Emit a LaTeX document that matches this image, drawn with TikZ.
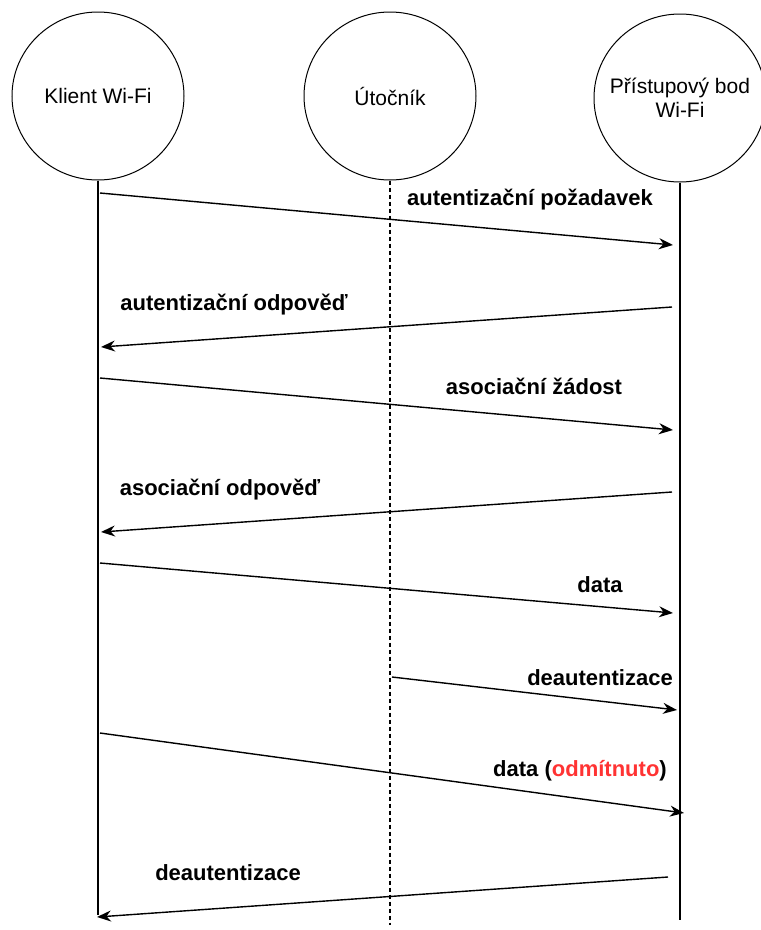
\documentclass[tikz,border=0pt]{standalone}
\usepackage{fontspec}
\setmainfont{Liberation Sans}
\usetikzlibrary{shapes.geometric, arrows.meta}
\usetikzlibrary{positioning}
\definecolor{odmitnuto}{RGB}{255,51,51}
\tikzstyle{party} = [ellipse, minimum width=172pt, minimum height=168pt, inner xsep=-16pt, draw=black, line width=1pt, align=center, font=\fontsize{21}{24}\selectfont]
\tikzstyle{lifeline} = [line width=1.2pt]
\tikzstyle{msg} = [line width=1.4pt, -{Stealth[length=14pt,width=11pt]}]
\tikzstyle{lbl} = [inner sep=0pt, font=\fontsize{22}{26}\selectfont\bfseries]

\begin{document}
\begin{tikzpicture}[x=1pt, y=-1pt]
        \useasboundingbox (0,0) rectangle (761,930);
        %participants
        \node (klient) [party] at (98,96) {Klient Wi-Fi};
        \node (utocnik) [party, right of=klient, node distance=292pt] {Útočník};
        \node (ap) [party, right of=utocnik, node distance=290pt, yshift=-2pt] {Přístupový bod\\Wi-Fi};
        %lifeline ends
        \coordinate (klientEnd) at (98,915);
        \coordinate (utocnikEnd) at (390,925);
        \coordinate (apEnd) at (680,920);
        \draw [lifeline] (klient) -- (klientEnd);
        \draw [lifeline, dashed, dash pattern=on 4pt off 3pt] (utocnik) -- (utocnikEnd);
        \draw [lifeline] (ap) -- (apEnd);
        %message end points
        \coordinate (k1) at (100,193);  \coordinate (a1) at (673,245);
        \coordinate (a2) at (672,307);  \coordinate (k2) at (101,347);
        \coordinate (k3) at (100,378);  \coordinate (a3) at (673,430);
        \coordinate (a4) at (672,492);  \coordinate (k4) at (101,532);
        \coordinate (k5) at (100,563);  \coordinate (a5) at (673,613);
        \coordinate (u6) at (392,677);  \coordinate (a6) at (677,710);
        \coordinate (k7) at (100,733);  \coordinate (a7) at (684,813);
        \coordinate (a8) at (668,877);  \coordinate (k8) at (97,917);
        %messages
        \draw [msg] (k1) -- (a1);
        \draw [msg] (a2) -- (k2);
        \draw [msg] (k3) -- (a3);
        \draw [msg] (a4) -- (k4);
        \draw [msg] (k5) -- (a5);
        \draw [msg] (u6) -- (a6);
        \draw [msg] (k7) -- (a7);
        \draw [msg] (a8) -- (k8);
        %labels
        \node (authReq) [lbl] at (530,200) {autentizační požadavek};
        \node (authResp) [lbl] at (234,305) {autentizační odpověď};
        \node (assocReq) [lbl] at (534,386) {asociační žádost};
        \node (assocResp) [lbl] at (220,490) {asociační odpověď};
        \node (data) [lbl] at (600,585) {data};
        \node (deauthAp) [lbl] at (600,678) {deautentizace};
        \node (dataRej) [lbl] at (580,771) {data (\textcolor{odmitnuto}{odmítnuto})};
        \node (deauthKl) [lbl] at (228,873) {deautentizace};
    \end{tikzpicture}
\end{document}
